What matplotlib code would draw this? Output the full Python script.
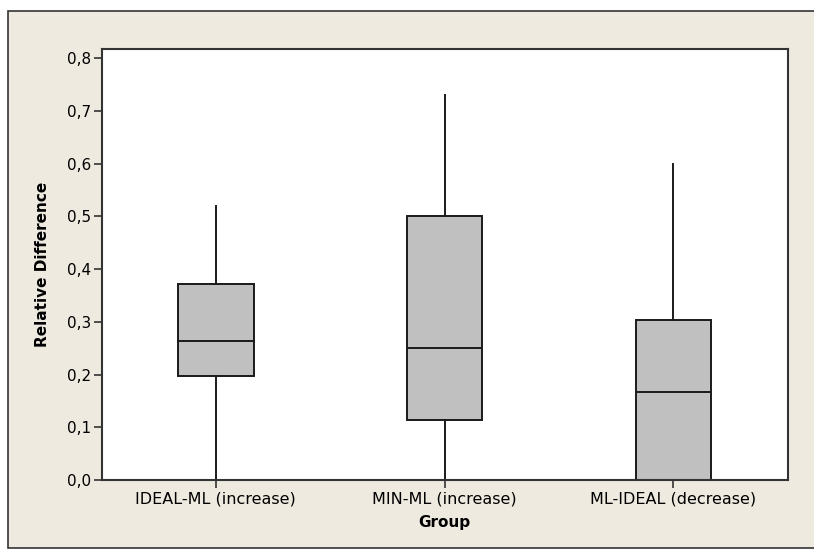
import matplotlib
matplotlib.use('Agg')
import matplotlib.pyplot as plt
from matplotlib.patches import Rectangle

# box statistics
groups = ['IDEAL-ML (increase)', 'MIN-ML (increase)', 'ML-IDEAL (decrease)']
whislo = [0.0, 0.0, 0.0]
q1 = [0.198, 0.114, 0.0]
med = [0.264, 0.250, 0.166]
q3 = [0.371, 0.500, 0.304]
whishi = [0.520, 0.730, 0.600]

yticks = [0.0, 0.1, 0.2, 0.3, 0.4, 0.5, 0.6, 0.7, 0.8]
ytick_labels = ['0,0', '0,1', '0,2', '0,3', '0,4', '0,5', '0,6', '0,7', '0,8']

plt.rcParams['font.family'] = ['DejaVu Sans']

fig = plt.figure(figsize=(8.14, 5.49), dpi=100)
fig.patch.set_facecolor('white')
# beige frame behind everything
fig.patches.append(Rectangle((8 / 814, 1 / 549), 1.0, 1 - 12 / 549,
                             transform=fig.transFigure, facecolor='#eeeae0',
                             edgecolor='#333333', linewidth=1.2, zorder=-10))

ax = fig.add_axes([101.5 / 814, 1 - 480 / 549, (787.7 - 101.5) / 814,
                   (480 - 49.3) / 549])
ax.set_facecolor('white')

stats = []
for i, g in enumerate(groups):
    stats.append({'label': g, 'whislo': whislo[i], 'q1': q1[i],
                  'med': med[i], 'q3': q3[i], 'whishi': whishi[i],
                  'fliers': []})

ax.bxp(stats, positions=[1, 2, 3], widths=0.33, patch_artist=True,
       showcaps=False, showfliers=False,
       boxprops=dict(facecolor='#c0c0c0', edgecolor='#1a1a1a', linewidth=1.4),
       whiskerprops=dict(color='#1a1a1a', linewidth=1.4),
       medianprops=dict(color='#1a1a1a', linewidth=1.4))

ax.set_xlim(0.5, 3.5)
ax.set_ylim(0, 0.817)
ax.set_yticks(yticks)
ax.set_yticklabels(ytick_labels)
ax.set_xticks([1, 2, 3])
ax.set_xticklabels(groups)

for s in ax.spines.values():
    s.set_color('#333333')
    s.set_linewidth(1.5)
ax.tick_params(axis='both', direction='out', length=5.5, width=1.2,
               color='#333333', labelcolor='black', pad=2)
ax.tick_params(axis='y', labelsize=11)
ax.tick_params(axis='x', labelsize=11.5, pad=3)

ax.set_ylabel('Relative Difference', fontsize=11, fontweight='bold',
              labelpad=12)
ax.set_xlabel('Group', fontsize=11, fontweight='bold', labelpad=6)

fig.savefig('out.png', dpi=100, facecolor=fig.get_facecolor())
